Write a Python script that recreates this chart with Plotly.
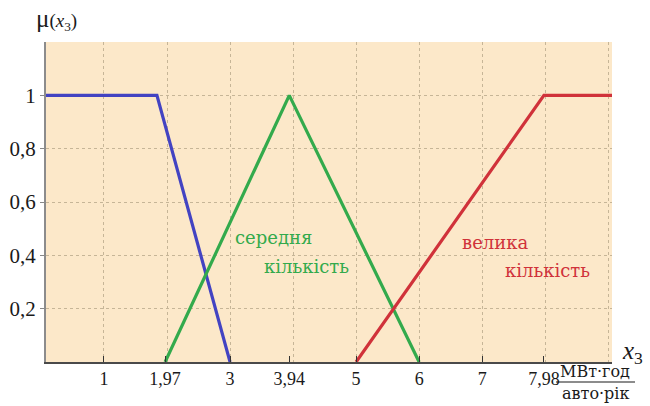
import plotly.graph_objects as go

# Membership functions of the linguistic variable x3
x_min, x_max = 0.08, 9.06

small_x = [x_min, 1.84, 3]
small_mu = [1, 1, 0]

medium_x = [1.97, 3.94, 6]
medium_mu = [0, 1, 0]

large_x = [5, 7.98, x_max]
large_mu = [0, 1, 1]

x_tick_vals = [1, 1.97, 3, 3.94, 5, 6, 7, 7.98]
x_tick_text = ["1", "1,97", "3", "3,94", "5", "6", "7", "7,98"]
y_tick_vals = [0.2, 0.4, 0.6, 0.8, 1.0]
y_tick_text = ["0,2", "0,4", "0,6", "0,8", "1"]

BLUE = "#4343C2"
GREEN = "#33AA4C"
RED = "#D0323A"
SERIF = "Liberation Serif"
LABEL_FONT = "DejaVu Serif"
GRID = "#C6B597"

fig = go.Figure()
for xs, ys, col in [(small_x, small_mu, BLUE), (medium_x, medium_mu, GREEN), (large_x, large_mu, RED)]:
    fig.add_trace(go.Scatter(x=xs, y=ys, mode="lines",
                             line=dict(color=col, width=3.2), hoverinfo="skip"))

fig.update_layout(
    width=650, height=406,
    margin=dict(l=46, r=38, t=42, b=44),
    paper_bgcolor="white",
    plot_bgcolor="#FCE8C9",
    showlegend=False,
    font=dict(family=SERIF, color="#1a1a1a"),
)

fig.update_xaxes(
    range=[x_min, x_max], showgrid=False, zeroline=False, automargin=False,
    tickmode="array", tickvals=x_tick_vals, ticktext=x_tick_text,
    ticks="inside", ticklen=6, tickwidth=1.2, tickcolor="#333",
    tickfont=dict(size=18, family=SERIF, color="#1a1a1a"),
    showline=True, linecolor="#4a4a4a", linewidth=1.5,
    minor=dict(tickvals=list(range(1, 10)), showgrid=True,
               gridcolor=GRID, griddash="dot", gridwidth=1, ticks=""),
)
fig.update_yaxes(
    range=[0, 1.2], showgrid=False, zeroline=False, automargin=False,
    tickmode="array", tickvals=y_tick_vals, ticktext=y_tick_text,
    ticks="outside", ticklen=4, tickcolor="#888",
    tickfont=dict(size=21, family=SERIF, color="#1a1a1a"),
    showline=True, linecolor="#8c8c8c", linewidth=2,
    minor=dict(tickvals=[0.2, 0.4, 0.6, 0.8, 1.0, 1.2], showgrid=True,
               gridcolor=GRID, griddash="dot", gridwidth=1, ticks=""),
)

def px(xp, yp):
    # pixel position -> paper coordinates of the plot area
    return (xp - 46) / 566, (362 - yp) / 320

annotations = [
    ("середня", 233, 237, GREEN, 18, "left"),
    ("кількість", 262, 266, GREEN, 18, "left"),
    ("велика", 460, 242, RED, 18, "left"),
    ("кількість", 503, 270, RED, 18, "left"),
]
for text, xp, yp, col, size, anchor in annotations:
    ax_, ay_ = px(xp, yp)
    fig.add_annotation(x=ax_, y=ay_, xref="paper", yref="paper", text=text,
                       showarrow=False, xanchor=anchor, yanchor="middle",
                       font=dict(family=LABEL_FONT, size=size, color=col))

# axis captions
ax_, ay_ = px(34, 20)
fig.add_annotation(x=ax_, y=ay_, xref="paper", yref="paper",
                   text="μ<span style='font-size:19px'>(<i>x</i><sub>3</sub>)</span>",
                   showarrow=False, xanchor="left", yanchor="middle",
                   font=dict(family=SERIF, size=25, color="#1a1a1a"))
ax_, ay_ = px(620, 352)
fig.add_annotation(x=ax_, y=ay_, xref="paper", yref="paper",
                   text="<i>x</i><sub>3</sub>",
                   showarrow=False, xanchor="left", yanchor="middle",
                   font=dict(family=SERIF, size=25, color="#1a1a1a"))
ax_, ay_ = px(595, 371)
fig.add_annotation(x=ax_, y=ay_, xref="paper", yref="paper", text="МВт·год",
                   showarrow=False, xanchor="center", yanchor="middle",
                   font=dict(family=LABEL_FONT, size=16, color="#1a1a1a"))
ax_, ay_ = px(595, 393)
fig.add_annotation(x=ax_, y=ay_, xref="paper", yref="paper", text="авто·рік",
                   showarrow=False, xanchor="center", yanchor="middle",
                   font=dict(family=LABEL_FONT, size=16, color="#1a1a1a"))
x0, y0 = px(556, 382)
x1, _ = px(635, 382)
fig.add_shape(type="line", xref="paper", yref="paper", x0=x0, x1=x1, y0=y0, y1=y0,
              line=dict(color="#1a1a1a", width=1.2))

fig.write_html("out.html")
